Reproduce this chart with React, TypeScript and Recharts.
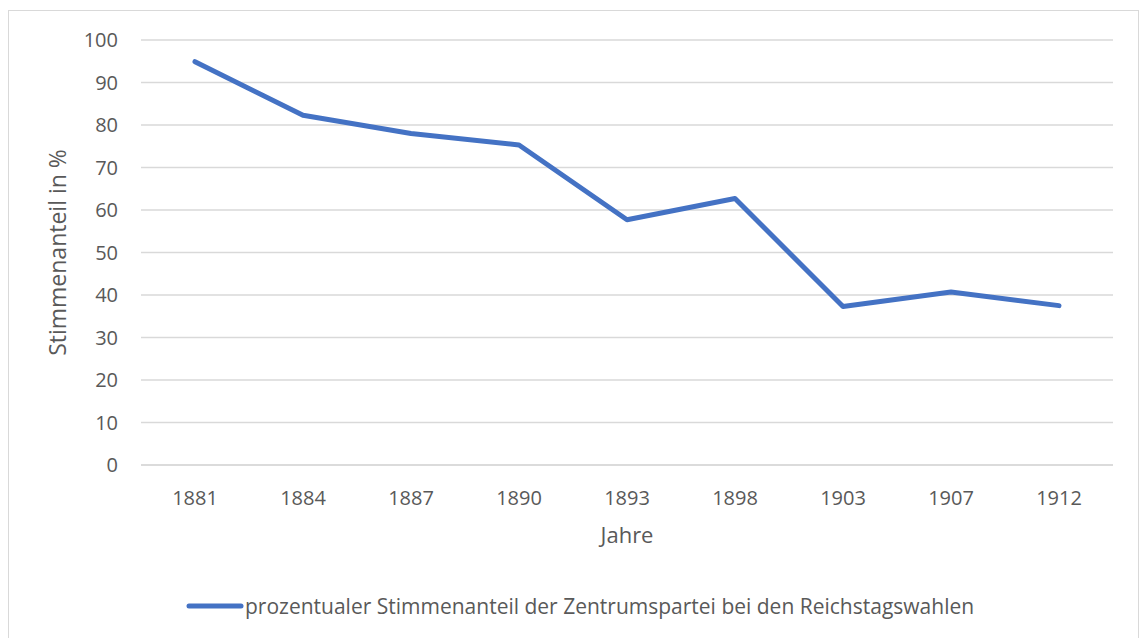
import React from 'react';
import { LineChart, Line, XAxis, YAxis, CartesianGrid, Legend } from 'recharts';

const years = ['1881', '1884', '1887', '1890', '1893', '1898', '1903', '1907', '1912'];
const shares = [94.9, 82.3, 78.0, 75.3, 57.7, 62.7, 37.3, 40.7, 37.5];
const yTicks = [0, 10, 20, 30, 40, 50, 60, 70, 80, 90, 100];

const seriesName = 'prozentualer Stimmenanteil der Zentrumspartei bei den Reichstagswahlen';

const data = years.map((year, i) => ({ year, share: shares[i] }));

const textColor = '#595959';
const gridColor = '#d9d9d9';
const lineColor = '#4472c4';
const fontFamily = '"Open Sans", sans-serif';

const LegendContent = () => (
    <div style={{ height: 30, display: 'flex', alignItems: 'center', paddingLeft: 186, fontFamily }}>
        <svg width={58} height={10}>
            <line x1={3} y1={5} x2={55} y2={5} stroke={lineColor} strokeWidth={5} strokeLinecap="round" />
        </svg>
        <span style={{ fontSize: 21, color: textColor, marginLeft: 1 }}>{seriesName}</span>
    </div>
);

const App: React.FC = () => {
    return (
        <div style={{ position: 'absolute', left: 0, top: 0, width: 1142, height: 638, background: '#fff', overflow: 'hidden' }}>
            <div
                style={{
                    position: 'absolute',
                    left: 8,
                    top: 10,
                    width: 1131,
                    height: 660,
                    border: `1.5px solid ${gridColor}`,
                    boxSizing: 'border-box',
                }}
            />
            <LineChart
                width={1142}
                height={638}
                data={data}
                margin={{ top: 40, right: 29, bottom: 17, left: 0 }}
                style={{ position: 'absolute', left: 0, top: 0, fontFamily }}
            >
                <CartesianGrid vertical={false} stroke={gridColor} strokeWidth={1.4} />
                <XAxis
                    dataKey="year"
                    height={126}
                    padding={{ left: 54, right: 54 }}
                    tickLine={false}
                    tickSize={0}
                    tickMargin={26}
                    axisLine={{ stroke: gridColor, strokeWidth: 1.4 }}
                    tick={{ fill: textColor, fontSize: 20 }}
                    label={{ value: 'Jahre', position: 'insideTop', offset: 62, fill: textColor, fontSize: 22 }}
                />
                <YAxis
                    width={141}
                    domain={[0, 100]}
                    ticks={yTicks}
                    interval={0}
                    axisLine={false}
                    tickLine={false}
                    tickSize={0}
                    tickMargin={23}
                    tick={{ fill: textColor, fontSize: 20 }}
                    label={{
                        value: 'Stimmenanteil in %',
                        angle: -90,
                        position: 'insideLeft',
                        offset: 58,
                        fill: textColor,
                        fontSize: 23,
                        style: { textAnchor: 'middle' },
                    }}
                />
                <Legend verticalAlign="bottom" height={30} content={<LegendContent />} />
                <Line
                    type="linear"
                    dataKey="share"
                    name={seriesName}
                    stroke={lineColor}
                    strokeWidth={5}
                    strokeLinecap="round"
                    strokeLinejoin="round"
                    dot={false}
                    activeDot={false}
                    isAnimationActive={false}
                />
            </LineChart>
        </div>
    );
};

export default App;
